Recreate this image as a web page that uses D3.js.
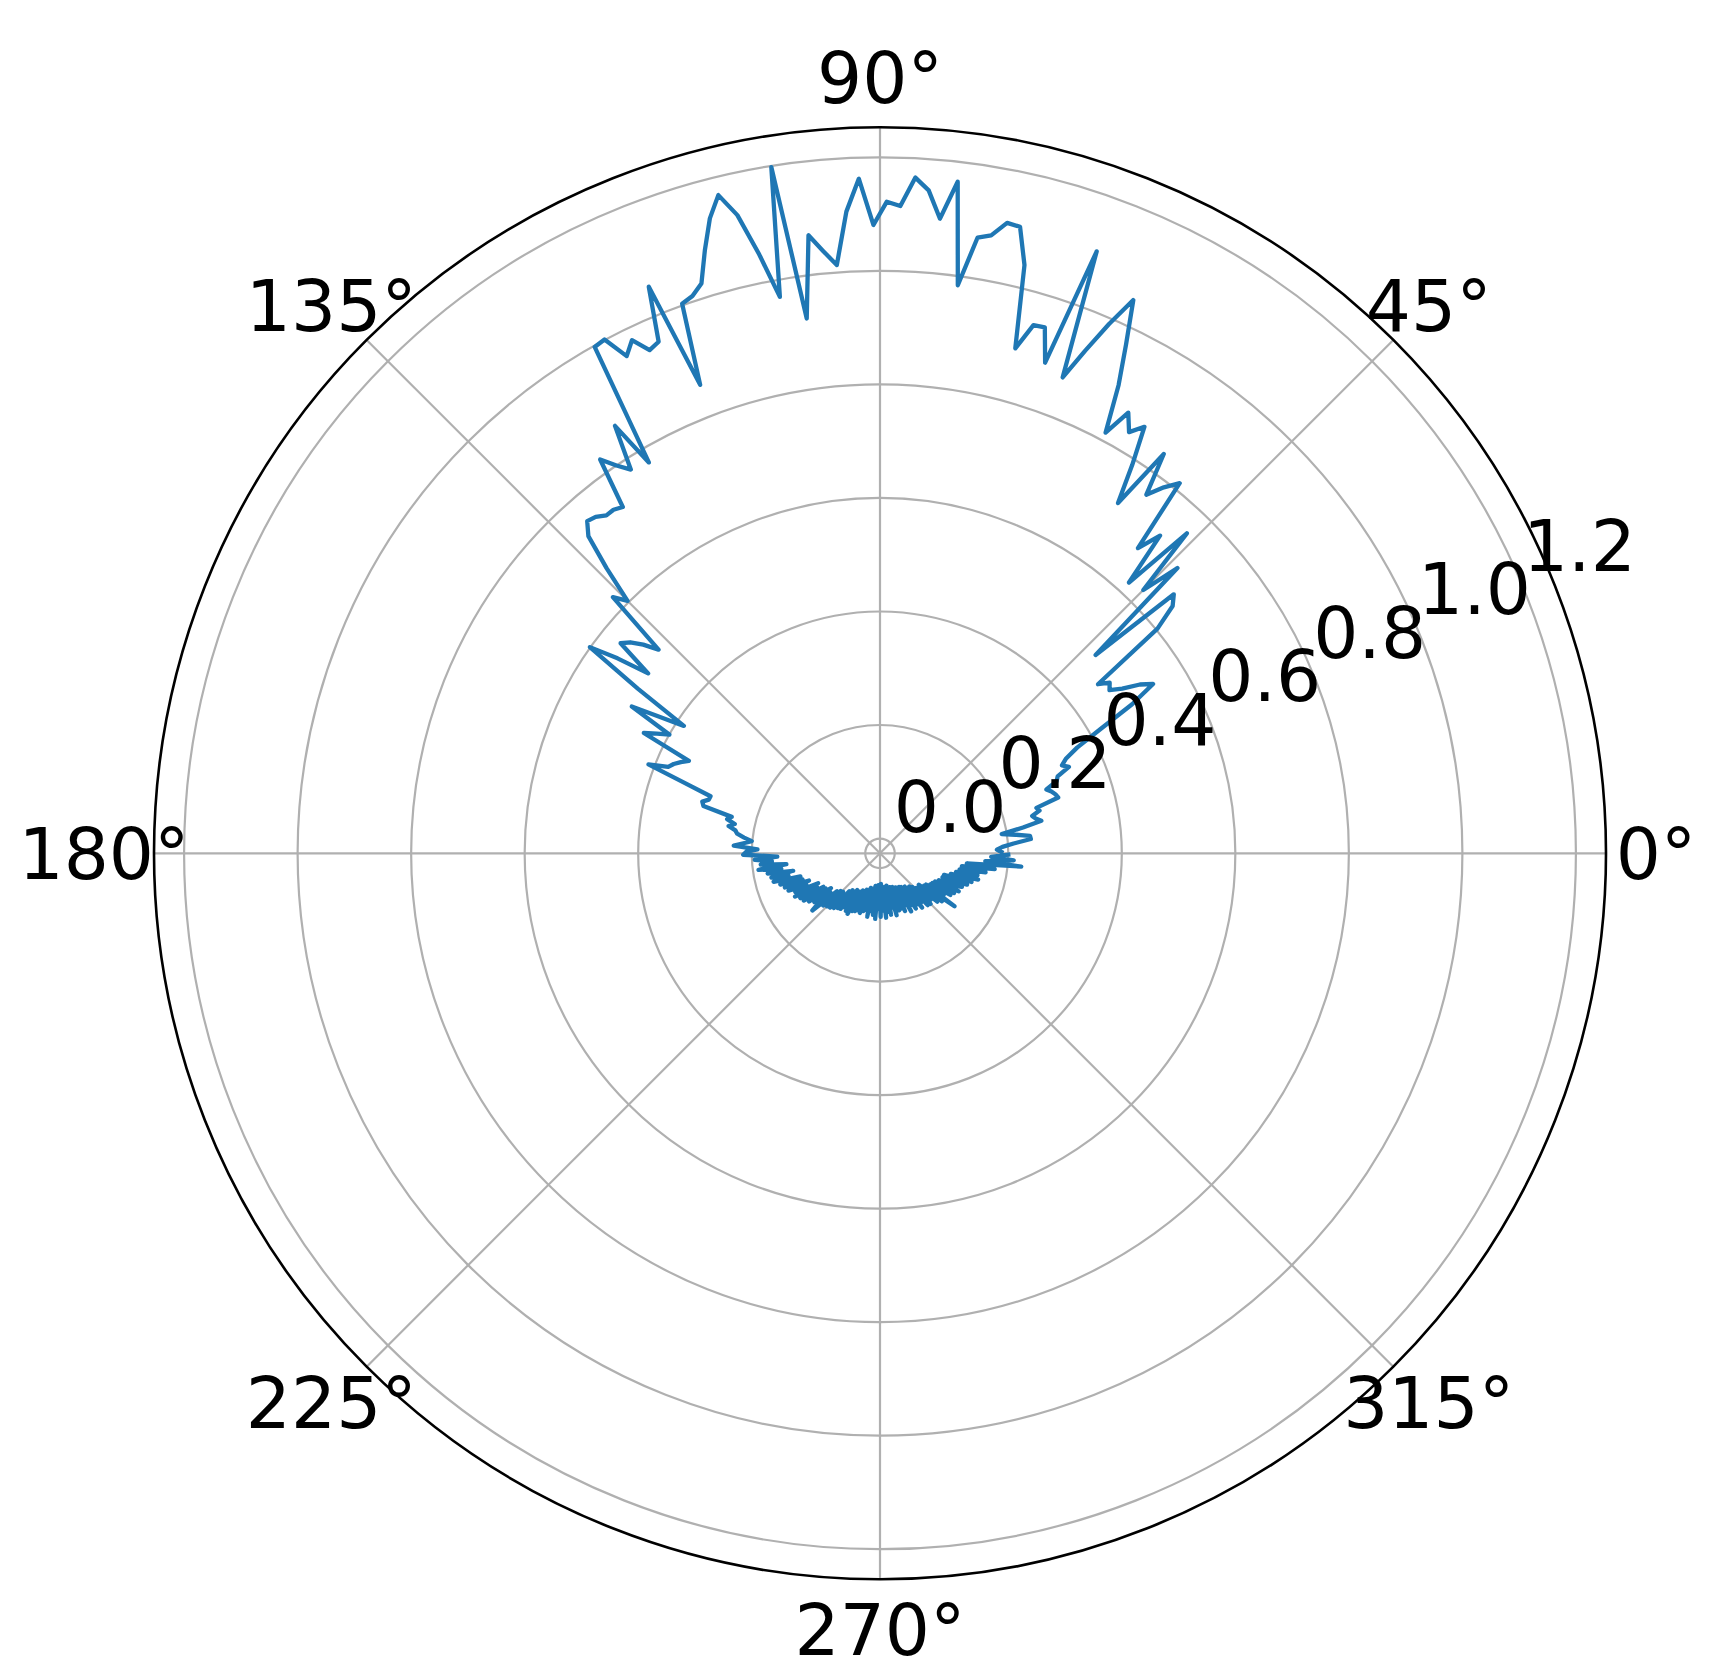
<!DOCTYPE html>
<html>
<head>
<meta charset="utf-8">
<script src="https://cdn.jsdelivr.net/npm/d3@7"></script>
<style>
  html, body { margin: 0; padding: 0; background: #ffffff; }
  svg { display: block; }
  text { font-family: "DejaVu Sans", sans-serif; }
</style>
</head>
<body>
<svg id="chart" width="1713" height="1680"></svg>
<script>
// ---- data ----
// radius values at evenly spaced angles (1.2 deg step, first point at 0.6 deg)
const radiusValues = [
  0.188, 0.18, 0.19, 0.21, 0.241, 0.24, 0.215, 0.191, 0.23, 0.264,
  0.255, 0.25, 0.265, 0.261, 0.303, 0.30, 0.295, 0.288, 0.31, 0.315,
  0.34, 0.33, 0.342, 0.368, 0.42, 0.49, 0.54, 0.52, 0.49, 0.47,
  0.478, 0.46, 0.603, 0.649, 0.664, 0.49, 0.70, 0.63, 0.755, 0.622,
  0.72, 0.678, 0.813, 0.79, 0.761, 0.837, 0.720, 0.79, 0.858, 0.836,
  0.865, 0.815, 0.90, 0.97, 1.046, 0.99, 0.93, 0.872, 1.101, 0.886,
  0.945, 0.943, 0.895, 1.041, 1.105, 1.107, 1.080, 1.072, 0.984, 1.165,
  1.097, 1.145, 1.166, 1.115, 1.122, 1.081, 1.163, 1.106, 1.013, 1.04,
  1.070, 0.925, 1.198, 0.970, 1.05, 1.126, 1.168, 1.132, 1.08, 1.026,
  1.01, 1.003, 0.858, 1.052, 0.956, 0.949, 0.978, 0.957, 1.001, 0.998,
  0.774, 0.860, 0.780, 0.80, 0.825, 0.734, 0.74, 0.740, 0.75, 0.754,
  0.733, 0.67, 0.603, 0.626, 0.504, 0.53, 0.55, 0.562, 0.491, 0.55,
  0.601, 0.49, 0.386, 0.43, 0.482, 0.400, 0.42, 0.441, 0.348, 0.36,
  0.37, 0.377, 0.411, 0.34, 0.289, 0.29, 0.30, 0.296, 0.243, 0.25,
  0.235, 0.245, 0.232, 0.228, 0.215, 0.201, 0.215, 0.232, 0.19, 0.21,
  0.215, 0.155, 0.195, 0.165, 0.185, 0.14, 0.19, 0.15, 0.175, 0.13,
  0.17, 0.14, 0.168, 0.12, 0.158, 0.118, 0.152, 0.108, 0.148, 0.115,
  0.138, 0.095, 0.142, 0.1, 0.135, 0.09, 0.132, 0.088, 0.125, 0.08,
  0.118, 0.085, 0.113, 0.13, 0.075, 0.11, 0.07, 0.106, 0.068, 0.104,
  0.072, 0.1, 0.06, 0.096, 0.055, 0.094, 0.064, 0.088, 0.05, 0.092,
  0.06, 0.095, 0.05, 0.087, 0.046, 0.085, 0.054, 0.082, 0.042, 0.085,
  0.046, 0.08, 0.037, 0.077, 0.044, 0.088, 0.037, 0.077, 0.032, 0.083,
  0.04, 0.09, 0.03, 0.072, 0.04, 0.086, 0.028, 0.075, 0.036, 0.088,
  0.034, 0.078, 0.042, 0.084, 0.032, 0.072, 0.04, 0.087, 0.036, 0.066,
  0.08, 0.037, 0.078, 0.042, 0.085, 0.04, 0.075, 0.048, 0.09, 0.042,
  0.08, 0.044, 0.09, 0.05, 0.085, 0.047, 0.095, 0.054, 0.087, 0.052,
  0.098, 0.056, 0.1, 0.062, 0.095, 0.064, 0.106, 0.062, 0.112, 0.07,
  0.135, 0.072, 0.108, 0.078, 0.118, 0.08, 0.122, 0.083, 0.128, 0.088,
  0.118, 0.13, 0.092, 0.137, 0.093, 0.143, 0.104, 0.153, 0.112, 0.15,
  0.117, 0.163, 0.12, 0.178, 0.128, 0.224, 0.16, 0.21, 0.17, 0.2
];
const angleStartDeg = 0.6;
const angleStepDeg = 1.2;
const radialTicks = [0.0, 0.2, 0.4, 0.6, 0.8, 1.0, 1.2];
const radialTickLabels = ["0.0", "0.2", "0.4", "0.6", "0.8", "1.0", "1.2"];
const angleTicks = [0, 45, 90, 135, 180, 225, 270, 315];
const angleTickLabels = ["0°", "45°", "90°", "135°", "180°", "225°", "270°", "315°"];
const radialDomain = [-0.026, 1.253];
const radialLabelAngle = 22.5;

// ---- layout ----
const cx = 880, cy = 853.3, outerR = 726;
const svg = d3.select("#chart");
svg.append("rect").attr("width", 1713).attr("height", 1680).attr("fill", "#ffffff");
const g = svg.append("g").attr("transform", `translate(${cx},${cy})`);

const rScale = d3.scaleLinear().domain(radialDomain).range([0, outerR]);
const toRad = d => d * Math.PI / 180;
// matplotlib convention: 0 deg at east, counter-clockwise; d3 radial: 0 at north, clockwise
const d3Angle = deg => Math.PI / 2 - toRad(deg);
const px = (deg, rr) => rr * Math.cos(toRad(deg));
const py = (deg, rr) => -rr * Math.sin(toRad(deg));

const gridColor = "#b0b0b0";

// circular grid
g.selectAll("circle.grid").data(radialTicks).enter().append("circle")
  .attr("class", "grid")
  .attr("r", d => rScale(d))
  .attr("fill", "none").attr("stroke", gridColor).attr("stroke-width", 2.2);

// angular grid
g.selectAll("line.agrid").data(angleTicks).enter().append("line")
  .attr("x1", 0).attr("y1", 0)
  .attr("x2", d => px(d, outerR)).attr("y2", d => py(d, outerR))
  .attr("stroke", gridColor).attr("stroke-width", 2.2);

// data line
const points = radiusValues.map((v, i) => ({ deg: angleStartDeg + i * angleStepDeg, r: v }));
const line = d3.lineRadial()
  .angle(d => d3Angle(d.deg))
  .radius(d => rScale(d.r));
g.append("path").datum(points)
  .attr("d", line)
  .attr("fill", "none")
  .attr("stroke", "#1f77b4")
  .attr("stroke-width", 4.3)
  .attr("stroke-linejoin", "round")
  .attr("stroke-linecap", "square");

// outer spine
g.append("circle").attr("r", outerR)
  .attr("fill", "none").attr("stroke", "#000000").attr("stroke-width", 2.6);

// angle labels
const labelR = 776;
g.selectAll("text.alab").data(angleTicks).enter().append("text")
  .attr("x", d => px(d, labelR))
  .attr("y", d => py(d, labelR) + 26)
  .attr("text-anchor", "middle")
  .attr("font-size", 71)
  .attr("fill", "#000000")
  .text((d, i) => angleTickLabels[i]);

// radial labels
g.selectAll("text.rlab").data(radialTicks).enter().append("text")
  .attr("x", d => px(radialLabelAngle, rScale(d)))
  .attr("y", d => py(radialLabelAngle, rScale(d)) - 16)
  .attr("text-anchor", "start")
  .attr("font-size", 71)
  .attr("fill", "#000000")
  .text((d, i) => radialTickLabels[i]);
</script>
</body>
</html>
